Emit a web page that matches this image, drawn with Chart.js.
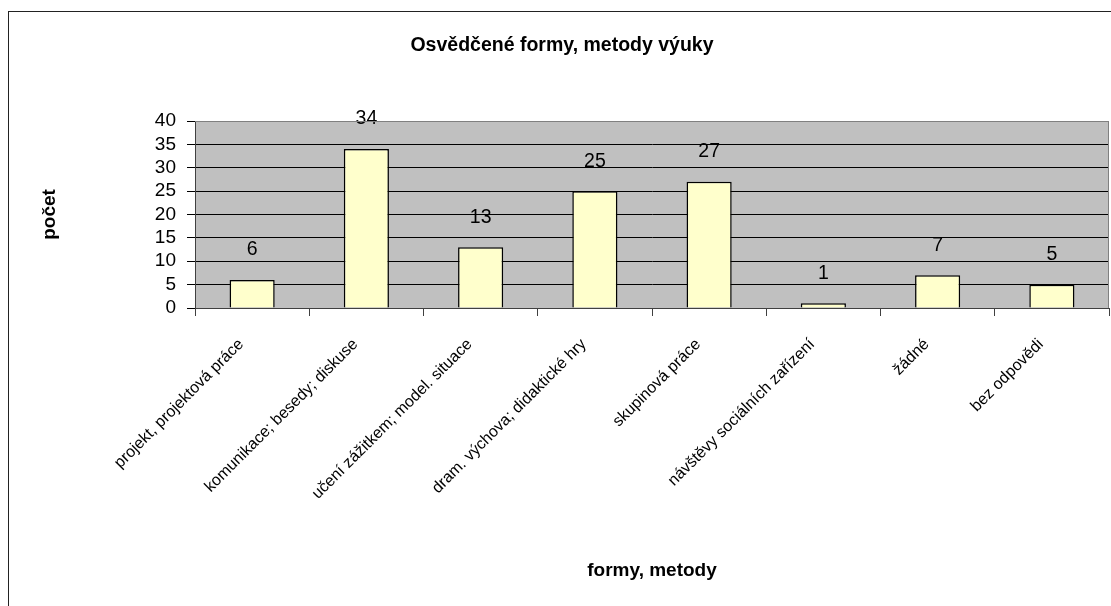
<!DOCTYPE html>
<html>
<head>
<meta charset="utf-8">
<script src="https://cdn.jsdelivr.net/npm/chart.js@4"></script>
<style>
  body{margin:0;background:#fff;overflow:hidden;}
  #frame{position:absolute;left:8px;top:11px;width:1200px;height:700px;border:1.5px solid #222;box-sizing:border-box;}
  #wrap{position:absolute;left:0;top:0;width:1111px;height:606px;}
</style>
</head>
<body>
<div id="frame"></div>
<div id="wrap"><canvas id="chart" width="1111" height="606"></canvas></div>
<script>
// --- Data ---
const categories = [
  "projekt, projektová práce",
  "komunikace; besedy; diskuse",
  "učení zážitkem; model. situace",
  "dram. výchova; didaktické hry",
  "skupinová práce",
  "návštěvy sociálních zařízení",
  "žádné",
  "bez odpovědi"
];
const counts = [6, 34, 13, 25, 27, 1, 7, 5];
const yTicks = [0, 5, 10, 15, 20, 25, 30, 35, 40];

const FONT = "'Liberation Sans', Arial, sans-serif";

// --- Plugins ---
const plotBg = {
  id:'plotBg',
  beforeDraw(chart){
    const {ctx, chartArea:a} = chart;
    ctx.save();
    ctx.fillStyle = '#c0c0c0';
    ctx.fillRect(a.left, a.top, a.right-a.left, a.bottom-a.top);
    ctx.restore();
  },
  afterDraw(chart){
    const {ctx, chartArea:a} = chart;
    ctx.save();
    ctx.strokeStyle = '#808080';
    ctx.lineWidth = 1;
    ctx.beginPath();
    ctx.moveTo(a.left, a.top+0.5);
    ctx.lineTo(a.right-0.5, a.top+0.5);
    ctx.lineTo(a.right-0.5, a.bottom);
    ctx.stroke();
    ctx.restore();
  }
};

const barLabels = {
  id:'barLabels',
  afterDatasetsDraw(chart){
    const {ctx} = chart;
    const meta = chart.getDatasetMeta(0);
    ctx.save();
    ctx.font = `19.5px ${FONT}`;
    ctx.fillStyle = '#000';
    ctx.textAlign = 'center';
    ctx.textBaseline = 'middle';
    meta.data.forEach((bar,i)=>{
      ctx.fillText(String(counts[i]), bar.x, bar.y - 30);
    });
    ctx.restore();
  }
};

// --- Chart ---
new Chart(document.getElementById('chart'), {
  type:'bar',
  data:{
    labels:categories,
    datasets:[{
      data:counts,
      backgroundColor:'#ffffcc',
      borderColor:'#000',
      borderWidth:1.5,
      categoryPercentage:1,
      barPercentage:0.395
    }]
  },
  options:{
    responsive:false,
    animation:false,
    layout:{padding:{left:15,right:2,top:0,bottom:0}},
    plugins:{
      legend:{display:false},
      tooltip:{enabled:false},
      title:{
        display:true,
        text:'Osvědčené formy, metody výuky',
        color:'#000',
        font:{family:FONT, size:19.5, weight:'bold'},
        padding:{top:34.3, bottom:63.3}
      }
    },
    scales:{
      x:{
        grid:{display:true, drawOnChartArea:false, drawTicks:true, tickLength:8, tickColor:'#404040', offset:true},
        border:{color:'#404040', width:1},
        ticks:{color:'#000', font:{family:FONT, size:16}, maxRotation:45, minRotation:45, autoSkip:false, padding:19, labelOffset:-11},
        title:{display:true, text:'formy, metody', color:'#000', font:{family:FONT, size:19, weight:'bold'}, padding:{bottom:23.6}},
        afterFit(scale){ scale.height = 298; }
      },
      y:{
        min:0, max:40,
        afterBuildTicks(scale){ scale.ticks = yTicks.map(v=>({value:v})); },
        grid:{color:ctx=>ctx.tick && ctx.tick.value===40 ? '#808080' : '#000', tickColor:'#000', tickLength:8, lineWidth:1},
        border:{color:'#404040', width:1},
        ticks:{color:'#000', font:{family:FONT, size:19}, padding:11, autoSkip:false},
        title:{display:true, text:'počet', color:'#000', font:{family:FONT, size:19, weight:'bold'}, padding:{top:23.6}},
        afterFit(scale){ scale.width = 180; }
      }
    }
  },
  plugins:[plotBg, barLabels]
});
</script>
</body>
</html>
